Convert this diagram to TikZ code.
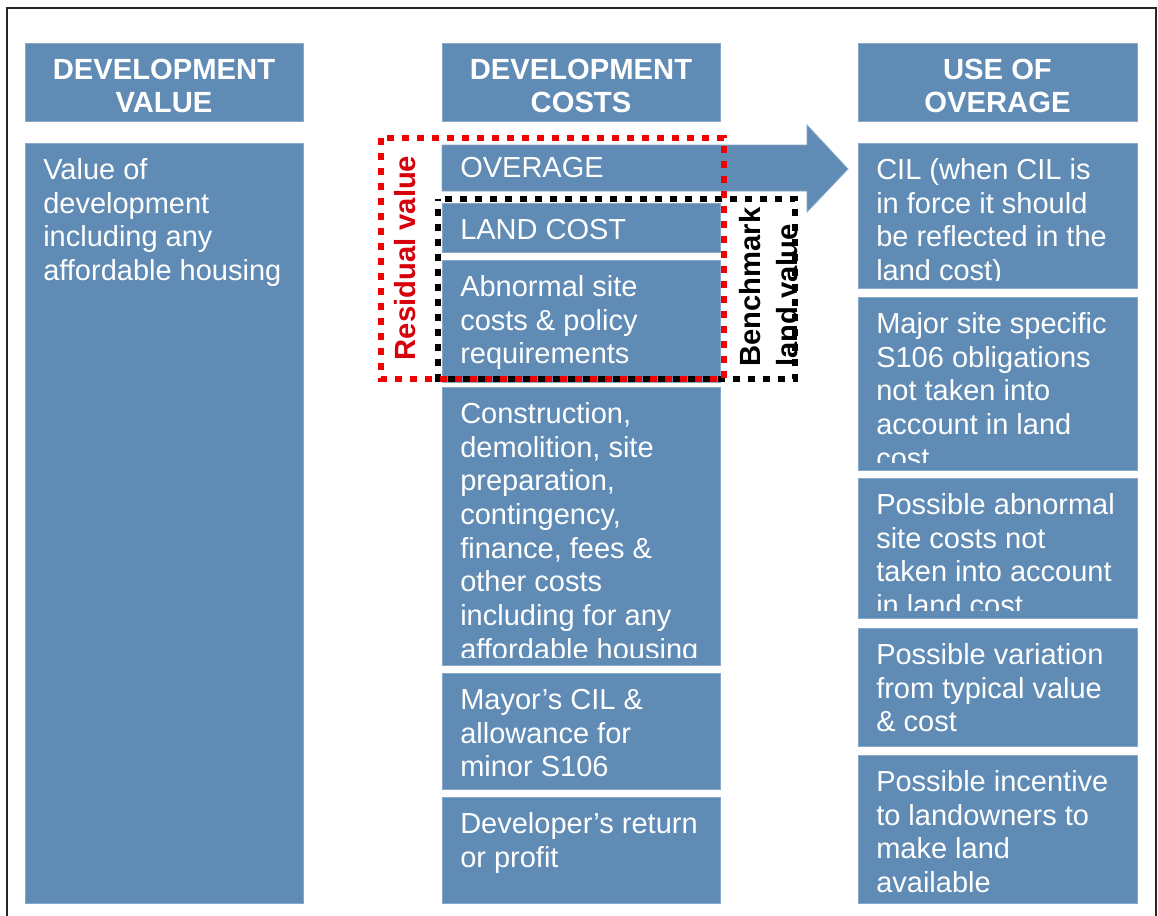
\documentclass[tikz,border=0pt]{standalone}
\usepackage{fontspec}
\setmainfont{Liberation Sans}
\definecolor{panelblue}{RGB}{95,139,181}
\definecolor{paneledge}{RGB}{135,168,202}
\definecolor{dotred}{RGB}{240,0,0}
\definecolor{labelred}{RGB}{215,0,10}
\tikzset{
  panel/.style={fill=panelblue, draw=paneledge, line width=0.6pt},
  bodytext/.style={inner sep=0pt, anchor=north west, align=left, text=white,
    font=\fontsize{21.75}{25.3}\selectfont},
  headtext/.style={inner sep=0pt, anchor=north, align=center, text=white,
    font=\bfseries\fontsize{21.9}{24.75}\selectfont},
  sidelabel/.style={inner sep=0pt, rotate=90, font=\bfseries\fontsize{21.9}{24.75}\selectfont},
  dotline/.style={line width=5pt, dash pattern=on 5.25pt off 6pt},
}
% a filled panel with its text clipped a little above the lower edge
\newcommand\panelbox[6]{%
  \path[panel] (#2,#3) rectangle (#4,#5);
  \begin{scope}
    \clip (#2,#3) rectangle ([yshift=6pt]#4,#5);
    \node[bodytext] (#1) at ([xshift=13.5pt,yshift=-4.5pt]#2,#3) {\rule{0pt}{22.5pt}#6};
  \end{scope}}
% a column heading
\newcommand\headbox[5]{%
  \path[panel] (#2,43) rectangle (#3,121);
  \node[headtext] (#1) at (#4,49) {\rule{0pt}{22.5pt}#5};}

\begin{document}
\begin{tikzpicture}[x=0.75pt,y=-0.75pt]
\useasboundingbox (0,0) rectangle (1158,915);
\fill[white] (0,0) rectangle (1158,915);
% frame
\draw[line width=1.5pt, black!85] (6.5,8) rectangle (1155.5,940);

% headings
\headbox{hValue}{25}{303}{164}{DEVELOPMENT\\VALUE}
\headbox{hCosts}{442}{720}{581}{DEVELOPMENT\\COSTS}
\headbox{hUse}{858}{1137}{997.5}{USE OF\\OVERAGE}

% development value
\panelbox{value}{25}{143}{303}{903}{Value of\\development\\including any\\affordable housing}

% development costs
\path[panel] (442,145) -- (807,145) -- (807,125) -- (848,169) -- (807,212) -- (807,191) -- (442,191) -- cycle;
\node[bodytext] (overage) at ([xshift=13.5pt,yshift=-1.5pt]442,145) {\rule{0pt}{22.5pt}OVERAGE};
\panelbox{land}{442}{203}{720}{252}{LAND COST}
\panelbox{abnormal}{442}{260}{720}{382}{Abnormal site\\costs \& policy\\requirements}
\panelbox{build}{442}{387}{720}{665}{Construction,\\demolition, site\\preparation,\\contingency,\\finance, fees \&\\other costs\\including for any\\affordable housing}
\panelbox{mayor}{442}{673}{720}{789}{Mayor’s CIL \&\\allowance for\\minor S106}
\panelbox{profit}{442}{797}{720}{903}{Developer’s return\\or profit}

% use of overage
\panelbox{cil}{858}{143}{1137}{288}{CIL (when CIL is\\in force it should\\be reflected in the\\land cost)}
\panelbox{major}{858}{297}{1137}{470}{Major site specific\\S106 obligations\\not taken into\\account in land\\cost}
\panelbox{abn}{858}{478}{1137}{618}{Possible abnormal\\site costs not\\taken into account\\in land cost}
\panelbox{vary}{858}{628}{1137}{746}{Possible variation\\from typical value\\\& cost}
\panelbox{incent}{858}{755}{1137}{903}{Possible incentive\\to landowners to\\make land\\available}

% residual value and benchmark land value
\node[sidelabel, text=labelred, anchor=base] (residual) at (415,258) {Residual value};
\node[sidelabel, text=black, anchor=base west] (bench) at (760,367) {Benchmark};
\node[sidelabel, text=black, anchor=base west] (landv) at (797,367) {land value};
\draw[dotline, black, dash phase=4.1pt] (438,199) rectangle (795,379);
\draw[dotline, dotred] (381,138) rectangle (724,379);
\end{tikzpicture}
\end{document}
